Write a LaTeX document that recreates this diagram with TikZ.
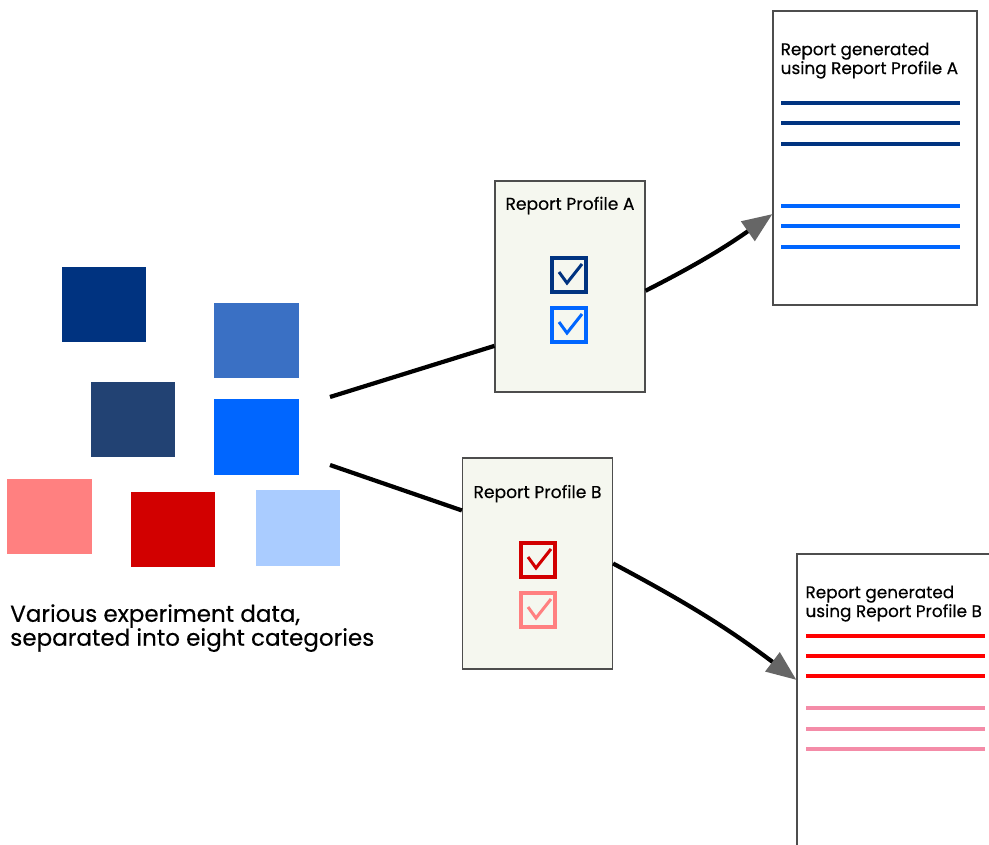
\documentclass[tikz,border=0pt]{standalone}
\usepackage{fontspec}
\setmainfont{Poppins}[FakeBold=0.35]
\usetikzlibrary{positioning,calc,arrows.meta}
\definecolor{dnavy}{HTML}{003380}
\definecolor{mblue}{HTML}{3A70C4}
\definecolor{slate}{HTML}{224273}
\definecolor{bblue}{HTML}{0066FF}
\definecolor{lblue}{HTML}{AACCFF}
\definecolor{lpink}{HTML}{FF8080}
\definecolor{dred}{HTML}{D20000}
\definecolor{bred}{HTML}{FF0000}
\definecolor{rpink}{HTML}{F48CA8}
\definecolor{pfill}{HTML}{F5F7EF}
\definecolor{pgrey}{HTML}{4D4D4D}
\definecolor{agrey}{HTML}{666666}
\tikzset{
  datasq/.style ={rectangle, draw=none, inner sep=0pt,
                  minimum width=2.1cm, minimum height=1.875cm},
  prof/.style   ={rectangle, draw=pgrey, thick, fill=pfill,
                  minimum width=3.75cm, minimum height=5.275cm},
  rep/.style    ={rectangle, draw=pgrey, thick, fill=white,
                  minimum width=5.1cm, minimum height=7.35cm},
  ptitle/.style ={font=\fontsize{12.2}{14}\selectfont, inner sep=0pt},
  rtitle/.style ={font=\fontsize{12}{11.4}\selectfont, align=left, inner sep=0pt},
  cbox/.style   ={rectangle, line width=0.1cm, minimum size=0.85cm, inner sep=0pt},
  chk/.style    ={line width=0.075cm},
  rline/.style  ={line width=0.1cm},
  fl/.style     ={line width=3pt, draw=black},
  fla/.style    ={fl, -{Triangle[length=7.5mm, width=5.8mm, color=agrey]}}
}
\begin{document}
\begin{tikzpicture}[x=0.025cm, y=0.025cm]
  \useasboundingbox (0,0) rectangle (989,844);
  \clip (0,0) rectangle (989,844);
  % experiment data
  \foreach \nm/\xx/\yy/\col in {sq1/104/539.5/dnavy, sq2/256.5/503.5/mblue,
      sq3/133/424.5/slate, sq4/256.5/407/bblue, sq5/49.5/327.5/lpink,
      sq6/173/314.5/dred, sq7/298/316/lblue}
    \node[datasq, fill=\col] (\nm) at (\xx,\yy) {};
  \node[anchor=north west, align=left, inner sep=0pt,
        font=\fontsize{16.4}{17}\selectfont] (cap) at (10,240)
    {Various experiment data,\\separated into eight categories};
  \coordinate (d1) at (330,447);
  \coordinate (d2) at (330,379);

  % report profiles
  \node[prof] (pa) at (570,557.5) {};
  \node[ptitle, below=0.4cm of pa.north] (pat) {Report Profile A};
  \node[cbox, draw=dnavy] (ca1) at (569,569) {};
  \node[cbox, draw=bblue, below=0.3cm of ca1] (ca2) {};
  \node[prof] (pb) at (537.5,280.5) {};
  \node[ptitle, below=0.68cm of pb.north] (pbt) {Report Profile B};
  \node[cbox, draw=dred] (cb1) at (538,284) {};
  \node[cbox, draw=lpink, below=0.3cm of cb1] (cb2) {};
  \foreach \n/\col in {ca1/dnavy, ca2/bblue, cb1/dred, cb2/lpink}
    \draw[chk, \col] ([shift={(-10,3)}]\n.center) -- ([shift={(-2,-8)}]\n.center)
      -- ([shift={(13,11)}]\n.center);

  % generated reports
  \node[rep] (ra) at (875,686) {};
  \node[rtitle, below right=0.8cm and 0.2cm of ra.north west] (rat)
    {Report generated\\using Report Profile A};
  \foreach \yy in {741,721,700} \draw[rline, dnavy] (781,\yy) -- (960,\yy);
  \foreach \yy in {638,618,597} \draw[rline, bblue] (781,\yy) -- (960,\yy);
  \node[rep, minimum height=7.5cm] (rb) at (899,140) {};
  \node[rtitle, below right=0.8cm and 0.22cm of rb.north west] (rbt)
    {Report generated\\using Report Profile B};
  \foreach \yy in {208,188,168} \draw[rline, bred] (806,\yy) -- (985,\yy);
  \foreach \yy in {136,115,95} \draw[rline, rpink] (806,\yy) -- (985,\yy);

  % connectors
  \draw[fl] (d1) -- ($(pa.south west)!0.22!(pa.north west)$);
  \draw[fl] (d2) -- ($(pb.south west)!0.75!(pb.north west)$);
  \draw[fla] ($(pa.south east)!0.48!(pa.north east)$) to[out=27, in=-145]
    ($(ra.south west)!0.31!(ra.north west)$);
  \draw[fla] (pb.east) to[out=-28, in=143]
    ($(rb.south west)!0.58!(rb.north west)$);
\end{tikzpicture}
\end{document}
